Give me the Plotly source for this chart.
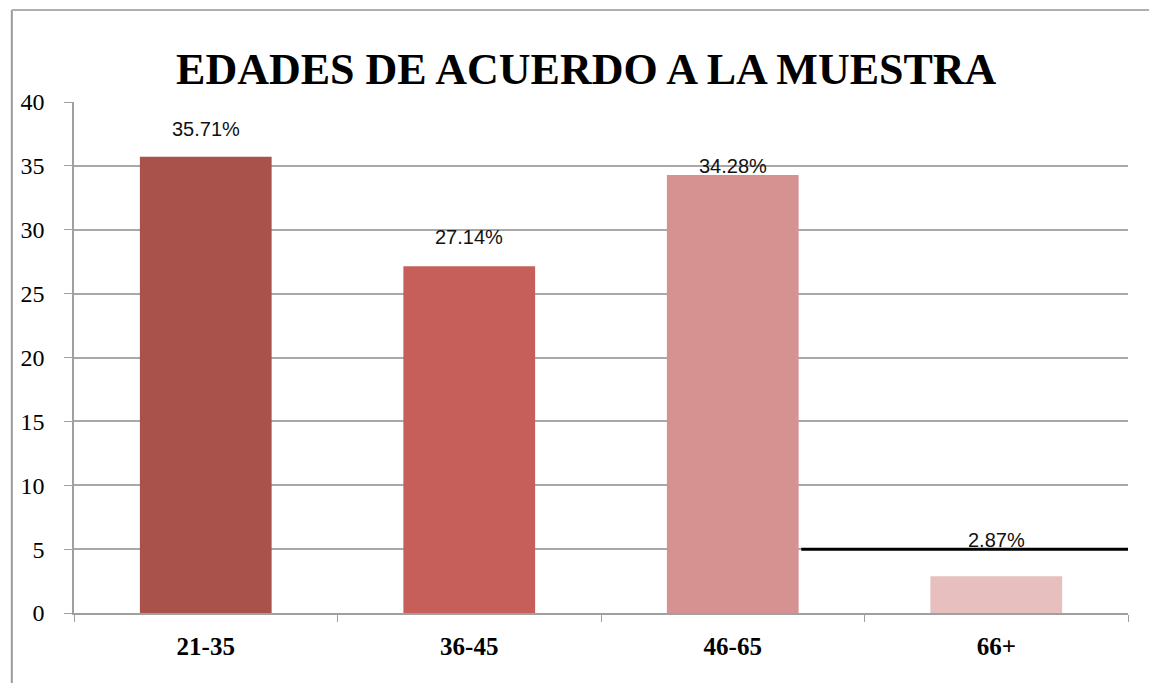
import plotly.graph_objects as go

categories = ["21-35", "36-45", "46-65", "66+"]
values = [35.71, 27.14, 34.28, 2.87]
labels = ["35.71%", "27.14%", "34.28%", "2.87%"]
bar_colors = ["#A9524C", "#C65F5A", "#D69191", "#E7BFBF"]
label_yshift = [15, 16, -4, 23]
y_ticks = [0, 5, 10, 15, 20, 25, 30, 35, 40]
ref_line_y = 5

fig = go.Figure()
fig.add_trace(go.Bar(
    x=categories, y=values, marker=dict(color=bar_colors, line=dict(width=0)),
    hoverinfo="x+y", showlegend=False,
))

for i, (c, v, t) in enumerate(zip(categories, values, labels)):
    fig.add_annotation(
        x=c, y=v, text=t, showarrow=False, yanchor="bottom", yshift=label_yshift[i],
        font=dict(family="Liberation Sans, Arial", size=20, color="#111111"),
    )

fig.add_shape(type="line", xref="x", yref="y", x0=2.26, x1=3.5, y0=ref_line_y, y1=ref_line_y,
              line=dict(color="black", width=3))

# outer frame (page body offset of 8px compensated)
fig.add_shape(type="line", xref="paper", yref="paper", x0=-0.059, x1=-0.059, y0=-0.14, y1=1.18,
              line=dict(color="#9a9a9a", width=2))
fig.add_shape(type="line", xref="paper", yref="paper", x0=-0.059, x1=1.02, y0=1.18, y1=1.18,
              line=dict(color="#b0b0b0", width=2))

fig.update_layout(
    width=1150, height=675,
    margin=dict(l=64, r=30, t=94, b=70),
    paper_bgcolor="white", plot_bgcolor="white",
    bargap=0.5,
    title=dict(text="<b>EDADES DE ACUERDO A LA MUESTRA</b>", x=0.486, xref="paper", xanchor="center",
               y=0.91, yanchor="middle",
               font=dict(family="Liberation Serif, Times New Roman", size=44, color="black")),
    xaxis=dict(
        type="category", showgrid=False, showline=True, linecolor="#a0a0a0", linewidth=1.5,
        ticks="outside", tickson="boundaries", ticklen=7, tickcolor="#a0a0a0",
        ticklabelstandoff=10,
        tickfont=dict(family="Liberation Serif, Times New Roman", size=25, color="black", weight="bold"),
        range=[-0.5, 3.5],
    ),
    yaxis=dict(
        range=[0, 40], tickvals=y_ticks, showgrid=True, gridcolor="#a8a8a8", gridwidth=1.5,
        showline=True, linecolor="#a0a0a0", linewidth=1.5,
        ticks="outside", ticklen=8, tickcolor="#a0a0a0",
        ticklabelstandoff=15,
        tickfont=dict(family="Liberation Serif, Times New Roman", size=24, color="black"),
        zeroline=False,
    ),
)

fig.write_html("out.html")
